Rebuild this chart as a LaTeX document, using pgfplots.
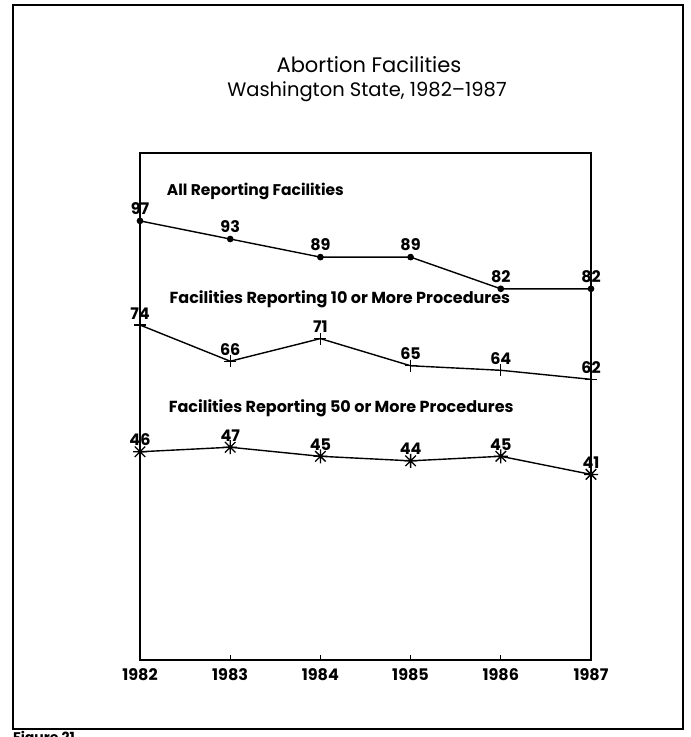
\documentclass[border=0pt]{standalone}
\usepackage{fontspec}
\setmainfont{Poppins}
\usepackage{pgfplots}
\pgfplotsset{compat=1.18}

\pgfdeclareplotmark{star8}{%
  \pgfpathmoveto{\pgfqpoint{0pt}{\pgfplotmarksize}}%
  \pgfpathlineto{\pgfqpoint{0pt}{-\pgfplotmarksize}}%
  \pgfpathmoveto{\pgfqpoint{\pgfplotmarksize}{0pt}}%
  \pgfpathlineto{\pgfqpoint{-\pgfplotmarksize}{0pt}}%
  \pgfpathmoveto{\pgfqpoint{0.75\pgfplotmarksize}{0.75\pgfplotmarksize}}%
  \pgfpathlineto{\pgfqpoint{-0.75\pgfplotmarksize}{-0.75\pgfplotmarksize}}%
  \pgfpathmoveto{\pgfqpoint{-0.75\pgfplotmarksize}{0.75\pgfplotmarksize}}%
  \pgfpathlineto{\pgfqpoint{0.75\pgfplotmarksize}{-0.75\pgfplotmarksize}}%
  \pgfusepathqstroke}

\pgfplotstableread{
year all
1982 97
1983 93
1984 89
1985 89
1986 82
1987 82
}\allfac
\pgfplotstableread{
year ten
1982 74
1983 66
1984 71
1985 65
1986 64
1987 62
}\tenfac
\pgfplotstableread{
year fifty
1982 46
1983 47
1984 45
1985 44
1986 45
1987 41
}\fiftyfac

\begin{document}
\begin{tikzpicture}
\path[use as bounding box] (0pt,0pt) rectangle (691pt,-737pt);
\draw[line width=1.6pt] (13pt,-5pt) rectangle (683pt,-729pt);
\begin{scope}
\clip (0pt,0pt) rectangle (691pt,-737pt);
\node[anchor=north west, inner sep=0pt, font=\fontsize{14}{16}\selectfont\bfseries] at (13pt,-731pt) {Figure 21};
\end{scope}
\node[font=\fontsize{21}{24}\selectfont] at (369pt,-65pt) {Abortion Facilities};
\node[font=\fontsize{19.5}{22}\selectfont] at (367pt,-92pt) {Washington State, 1982--1987};
\begin{axis}[
  at={(140pt,-660pt)}, anchor=south west,
  scale only axis, width=451pt, height=507pt,
  xmin=1982, xmax=1987, ymin=0, ymax=112,
  xtick={1982,...,1987}, ytick=\empty,
  xtick pos=left, tick align=inside, major tick length=5pt,
  /pgf/number format/assume math mode=true,
  x tick label style={font=\fontsize{16}{18}\selectfont\bfseries, /pgf/number format/1000 sep={}, yshift=-5pt},
  axis line style={line width=1.5pt},
  tick style={line width=1.2pt, black},
  clip=false,
  every axis plot/.append style={line width=1.4pt, black},
  nodes near coords,
  nodes near coords style={font=\fontsize{16}{18}\selectfont\bfseries, anchor=south, yshift=2pt, black},
]
\addplot[mark=*, mark size=2.6pt] table[x=year, y=all] {\allfac};
\addplot[mark=+, mark size=6pt, mark options={line width=1.3pt}] table[x=year, y=ten] {\tenfac};
\addplot[mark=star8, mark size=7pt, mark options={line width=1.3pt}] table[x=year, y=fifty] {\fiftyfac};
\node[anchor=west, font=\fontsize{15.5}{18}\selectfont\bfseries] at (axis cs:1982.26,103.5) {All Reporting Facilities};
\node[anchor=west, font=\fontsize{16}{18}\selectfont\bfseries] at (axis cs:1982.29,79.7) {Facilities Reporting 10 or More Procedures};
\node[anchor=west, font=\fontsize{16}{18}\selectfont\bfseries] at (axis cs:1982.28,55.6) {Facilities Reporting 50 or More Procedures};
\end{axis}
\end{tikzpicture}
\end{document}
